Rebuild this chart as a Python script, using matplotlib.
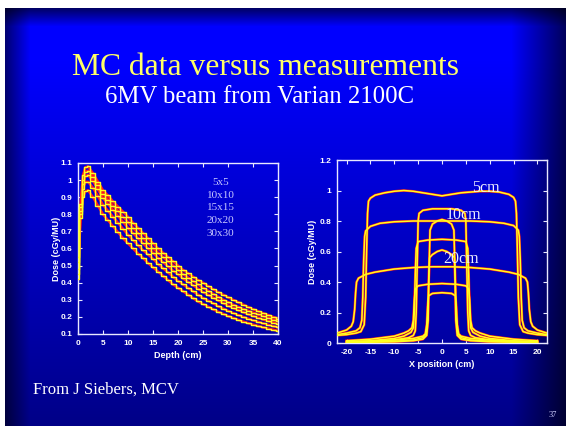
import numpy as np
import matplotlib
matplotlib.use("Agg")
import matplotlib.pyplot as plt

plt.rcParams["axes.unicode_minus"] = False

# ---- depth dose data (cGy/MU) ----
depth = [0, 0.5, 1, 1.5] + list(range(2, 41))

pdd_5x5 = [0.42, 0.78, 0.90, 0.935,
           0.94, 0.90, 0.85, 0.80, 0.765, 0.73, 0.695, 0.66, 0.63, 0.60,
           0.57, 0.545, 0.515, 0.49, 0.465, 0.44, 0.415, 0.39, 0.37, 0.35,
           0.33, 0.31, 0.29, 0.275, 0.26, 0.245, 0.23, 0.218, 0.205, 0.194,
           0.183, 0.173, 0.164, 0.155, 0.147, 0.139, 0.132, 0.125, 0.118]
pdd_10x10 = [0.45, 0.80, 0.95, 0.99,
             0.99, 0.955, 0.905, 0.855, 0.82, 0.785, 0.75, 0.715, 0.68, 0.65,
             0.62, 0.59, 0.565, 0.54, 0.51, 0.485, 0.46, 0.435, 0.41, 0.39,
             0.37, 0.35, 0.33, 0.31, 0.295, 0.28, 0.263, 0.249, 0.235, 0.223,
             0.211, 0.20, 0.19, 0.18, 0.171, 0.162, 0.154, 0.146, 0.138]
pdd_15x15 = [0.48, 0.82, 0.98, 1.025,
             1.03, 0.995, 0.945, 0.895, 0.86, 0.825, 0.79, 0.755, 0.72, 0.69,
             0.66, 0.63, 0.60, 0.575, 0.545, 0.52, 0.495, 0.47, 0.45, 0.425,
             0.405, 0.385, 0.365, 0.345, 0.33, 0.313, 0.297, 0.281, 0.266, 0.253,
             0.24, 0.228, 0.216, 0.205, 0.195, 0.185, 0.176, 0.167, 0.158]
pdd_20x20 = [0.52, 0.84, 1.00, 1.05,
             1.055, 1.02, 0.97, 0.92, 0.885, 0.85, 0.82, 0.785, 0.755, 0.72,
             0.69, 0.66, 0.63, 0.60, 0.575, 0.55, 0.525, 0.50, 0.475, 0.45,
             0.43, 0.41, 0.39, 0.37, 0.353, 0.335, 0.318, 0.301, 0.286, 0.272,
             0.259, 0.247, 0.236, 0.225, 0.214, 0.204, 0.194, 0.184, 0.175]
pdd_30x30 = [0.55, 0.86, 1.03, 1.075,
             1.08, 1.04, 0.99, 0.94, 0.91, 0.875, 0.845, 0.815, 0.785, 0.75,
             0.72, 0.69, 0.66, 0.63, 0.60, 0.575, 0.55, 0.525, 0.50, 0.475,
             0.455, 0.435, 0.415, 0.40, 0.38, 0.362, 0.345, 0.33, 0.315, 0.30,
             0.286, 0.272, 0.258, 0.245, 0.233, 0.222, 0.211, 0.20, 0.19]
pdd_curves = [pdd_5x5, pdd_10x10, pdd_15x15, pdd_20x20, pdd_30x30]
field_labels = ["5x5", "10x10", "15x15", "20x20", "30x30"]

# ---- profiles (cGy/MU) ----
# 30x30 at 5, 10, 20 cm
x_big5 = [-22, -20, -18, -17, -16.3, -16.0, -15.8, -15.6, -15.4, -15, -14, -12, -10, -8, -6, -4, -2, 0,
          2, 4, 6, 8, 10, 12, 14, 15, 15.4, 15.6, 15.8, 16.0, 16.3, 17, 18, 20, 22]
d_big5 = [0.05, 0.055, 0.065, 0.075, 0.12, 0.30, 0.60, 0.85, 0.93, 0.95, 0.97, 0.985, 0.995, 1.0, 0.995,
          0.985, 0.975, 0.965, 0.975, 0.985, 0.99, 0.995, 0.995, 0.99, 0.975, 0.955, 0.93, 0.85, 0.60,
          0.30, 0.12, 0.075, 0.065, 0.055, 0.05]
x_big10 = [-22, -20, -18, -17.2, -16.8, -16.6, -16.4, -16.2, -16, -15, -13, -10, -6, -2, 0, 2, 6, 10, 13,
           15, 16, 16.2, 16.4, 16.6, 16.8, 17.2, 18, 20, 22]
d_big10 = [0.055, 0.065, 0.08, 0.10, 0.15, 0.30, 0.55, 0.70, 0.735, 0.765, 0.785, 0.795, 0.80, 0.80, 0.80,
           0.80, 0.80, 0.795, 0.785, 0.77, 0.74, 0.70, 0.55, 0.30, 0.15, 0.10, 0.08, 0.065, 0.055]
x_big20 = [-22, -20, -19, -18.6, -18.3, -18.1, -17.9, -17.5, -16, -14, -10, -6, -2, 0, 2, 6, 10, 14, 16,
           17.5, 17.9, 18.1, 18.3, 18.6, 19, 20, 22]
d_big20 = [0.065, 0.085, 0.11, 0.14, 0.22, 0.33, 0.40, 0.425, 0.45, 0.465, 0.485, 0.495, 0.50, 0.50, 0.50,
           0.495, 0.485, 0.465, 0.45, 0.425, 0.40, 0.33, 0.22, 0.14, 0.11, 0.085, 0.065]
# 10x10 at 5, 10, 20 cm
x_mid5 = [-20, -15, -10, -7, -6, -5.6, -5.4, -5.2, -5.0, -4.8, -4, -2, 0, 2, 4, 4.8, 5.0, 5.2, 5.4, 5.6,
          6, 7, 10, 15, 20]
d_mid5 = [0.005, 0.01, 0.02, 0.035, 0.05, 0.08, 0.20, 0.50, 0.80, 0.85, 0.87, 0.88, 0.88, 0.88, 0.87,
          0.85, 0.80, 0.50, 0.20, 0.08, 0.05, 0.035, 0.02, 0.01, 0.005]
x_mid10 = [-20, -15, -10, -8, -6.5, -6, -5.8, -5.6, -5.4, -5, -3, 0, 3, 5, 5.4, 5.6, 5.8, 6, 6.5, 8, 10,
           15, 20]
d_mid10 = [0.01, 0.015, 0.03, 0.045, 0.07, 0.10, 0.20, 0.45, 0.62, 0.665, 0.675, 0.68, 0.675, 0.665,
           0.62, 0.45, 0.20, 0.10, 0.07, 0.045, 0.03, 0.015, 0.01]
x_mid20 = [-20, -15, -10, -8, -7, -6.3, -6, -5.8, -5.6, -5, -3, 0, 3, 5, 5.6, 5.8, 6, 6.3, 7, 8, 10,
           15, 20]
d_mid20 = [0.015, 0.025, 0.045, 0.065, 0.08, 0.10, 0.15, 0.28, 0.355, 0.375, 0.385, 0.39, 0.385, 0.375,
           0.355, 0.28, 0.15, 0.10, 0.08, 0.065, 0.045, 0.025, 0.015]
# 5x5 at 5, 10, 20 cm
x_sm5 = [-20, -15, -10, -6, -4, -3.2, -2.9, -2.7, -2.5, -2, -1, 0, 1, 2, 2.5, 2.7, 2.9, 3.2, 4, 6, 10,
         15, 20]
d_sm5 = [0.003, 0.005, 0.008, 0.015, 0.025, 0.05, 0.15, 0.50, 0.74, 0.78, 0.80, 0.81, 0.80, 0.78, 0.74,
         0.50, 0.15, 0.05, 0.025, 0.015, 0.008, 0.005, 0.003]
x_sm10 = [-20, -15, -10, -6, -4, -3.3, -3.0, -2.8, -2.6, -2, -1, 0, 1, 2, 2.6, 2.8, 3.0, 3.3, 4, 6, 10,
          15, 20]
d_sm10 = [0.005, 0.008, 0.012, 0.02, 0.035, 0.06, 0.15, 0.40, 0.56, 0.58, 0.60, 0.61, 0.60, 0.58, 0.56,
          0.40, 0.15, 0.06, 0.035, 0.02, 0.012, 0.008, 0.005]
x_sm20 = [-20, -15, -10, -6, -4, -3.5, -3.2, -3.0, -2.8, -2, 0, 2, 2.8, 3.0, 3.2, 3.5, 4, 6, 10, 15, 20]
d_sm20 = [0.008, 0.012, 0.02, 0.03, 0.045, 0.06, 0.12, 0.24, 0.31, 0.325, 0.33, 0.325, 0.31, 0.24, 0.12,
          0.06, 0.045, 0.03, 0.02, 0.012, 0.008]
profiles = [(x_big5, d_big5), (x_big10, d_big10), (x_big20, d_big20),
            (x_mid5, d_mid5), (x_mid10, d_mid10), (x_mid20, d_mid20),
            (x_sm5, d_sm5), (x_sm10, d_sm10), (x_sm20, d_sm20)]

RED = "#ff1a1a"
YEL = "#ffff20"
AXC = "#e8e8ff"

fig = plt.figure(figsize=(5.66, 4.26), dpi=100)

# slide background: blue gradient with darker rim and white strip at top/left
H, W = 426, 566
yy = np.arange(H)[:, None]
xx = np.arange(W)[None, :]
blue = 255 - 120 * np.clip((yy - 60) / 366.0, 0, 1)
rim = np.minimum(1, 0.45 + 0.55 * np.clip((xx - 5) / 25.0, 0, 1))
rim = rim * np.minimum(1, 0.35 + 0.65 * np.clip((W - xx) / 55.0, 0, 1))
rim = rim * np.minimum(1, 0.4 + 0.6 * np.clip((yy - 8) / 18.0, 0, 1))
img = np.zeros((H, W, 3))
img[..., 2] = blue * rim / 255.0
img[:8, :, :] = 1.0
img[:, :5, :] = 1.0
bg = fig.add_axes([0, 0, 1, 1])
bg.imshow(img, aspect="auto", interpolation="bilinear")
bg.set_axis_off()
bg.set_zorder(-10)

serif = "Liberation Serif"
sans = "Liberation Sans"

fig.text(0.469, 0.824, "MC data versus measurements", color="#ffff66", fontsize=22.8,
         family=serif, ha="center", va="baseline")
fig.text(0.4585, 0.758, "6MV beam from Varian 2100C", color="white", fontsize=17.8,
         family=serif, ha="center", va="baseline")
fig.text(0.058, 0.077, "From J Siebers, MCV", color="white", fontsize=12,
         family=serif, ha="left", va="baseline")
fig.text(0.976, 0.022, "37", color="#d0d0ff", fontsize=6, family=serif,
         ha="center", va="baseline")


def style(ax):
    ax.set_facecolor("none")
    for s in ax.spines.values():
        s.set_color(AXC)
        s.set_linewidth(1.0)
    ax.tick_params(direction="in", top=True, right=True, length=3, width=0.8,
                   color=AXC, labelcolor="white", labelsize=6, pad=4)
    for lab in ax.get_xticklabels() + ax.get_yticklabels():
        lab.set_fontfamily(sans)
        lab.set_fontweight("bold")


# ---- left: depth dose ----
ax1 = fig.add_axes([0.1378, 0.216, 0.3534, 0.4014])
for vals in pdd_curves:
    ax1.plot(depth, vals, color=RED, lw=1.8, zorder=2)
    ax1.plot(depth, vals, color=YEL, lw=1.0, drawstyle="steps-mid", zorder=3)
ax1.set_xlim(0, 40)
ax1.set_ylim(0.1, 1.1)
ax1.set_xticks(range(0, 41, 5))
yt1 = [0.1, 0.2, 0.3, 0.4, 0.5, 0.6, 0.7, 0.8, 0.9, 1.0, 1.1]
ax1.set_yticks(yt1)
ax1.set_yticklabels(["1" if v == 1.0 else f"{v:g}" for v in yt1])
style(ax1)
ax1.set_xlabel("Depth (cm)", color="white", fontsize=6.5, family=sans,
               fontweight="bold", labelpad=3)
ax1.set_ylabel("Dose (cGy/MU)", color="white", fontsize=6.5, family=sans,
               fontweight="bold", labelpad=0)
for i, lab in enumerate(field_labels):
    ax1.text(28.5, 0.987 - i * 0.0745, lab, color="#c8c8ff", fontsize=8,
             family=serif, ha="center", va="center")

# ---- right: profiles ----
ax2 = fig.add_axes([0.5954, 0.1948, 0.371, 0.4296])
for xs, ds in profiles:
    ax2.plot(xs, ds, color=RED, lw=1.8, zorder=2)
    ax2.plot(xs, ds, color=YEL, lw=1.1, zorder=3)
ax2.set_xlim(-22, 22)
ax2.set_ylim(0, 1.2)
ax2.set_xticks(range(-20, 21, 5))
yt2 = [0, 0.2, 0.4, 0.6, 0.8, 1.0, 1.2]
ax2.set_yticks(yt2)
ax2.set_yticklabels([f"{v:g}" for v in yt2])
style(ax2)
ax2.set_xlabel("X position (cm)", color="white", fontsize=6.5, family=sans,
               fontweight="bold", labelpad=3)
ax2.set_ylabel("Dose (cGy/MU)", color="white", fontsize=6.5, family=sans,
               fontweight="bold", labelpad=2)
for txt, xp, yp in [("5cm", 9.1, 1.014), ("10cm", 4.4, 0.839), ("20cm", 4.1, 0.549)]:
    ax2.text(xp, yp, txt, color="#eeeeff", fontsize=11.5, family=serif,
             ha="center", va="center", zorder=5)

fig.savefig("out.png", dpi=100)
